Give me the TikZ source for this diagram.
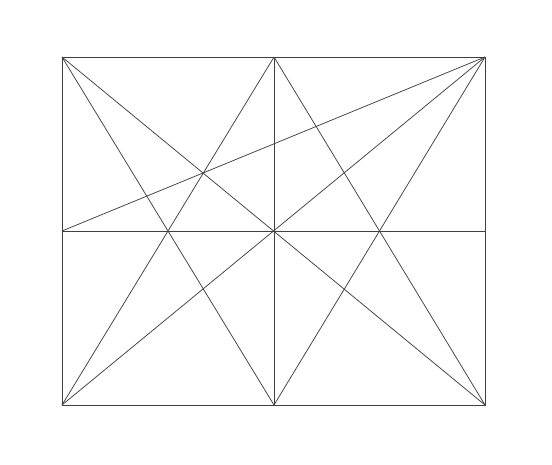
\documentclass[tikz,border=0pt]{standalone}
\begin{document}
\begin{tikzpicture}[x=1pt,y=-1pt, ln/.style={draw=black!75, line width=0.75pt}]
\useasboundingbox (0,0) rectangle (552,465);
\coordinate (TL) at (62,57);
\coordinate (TM) at (274,57);
\coordinate (TR) at (485,57);
\coordinate (ML) at (62,231);
\coordinate (MR) at (485,231);
\coordinate (BL) at (62,405);
\coordinate (BM) at (274,405);
\coordinate (BR) at (485,405);
\draw[ln] (TL) rectangle (BR);
\draw[ln] (TM) -- (BM);
\draw[ln] (ML) -- (MR);
\draw[ln] (TL) -- (BR);
\draw[ln] (TR) -- (BL);
\draw[ln] (TR) -- (ML);
\draw[ln] (TL) -- (BM);
\draw[ln] (TR) -- (BM);
\draw[ln] (TM) -- (BL);
\draw[ln] (TM) -- (BR);
\end{tikzpicture}
\end{document}
